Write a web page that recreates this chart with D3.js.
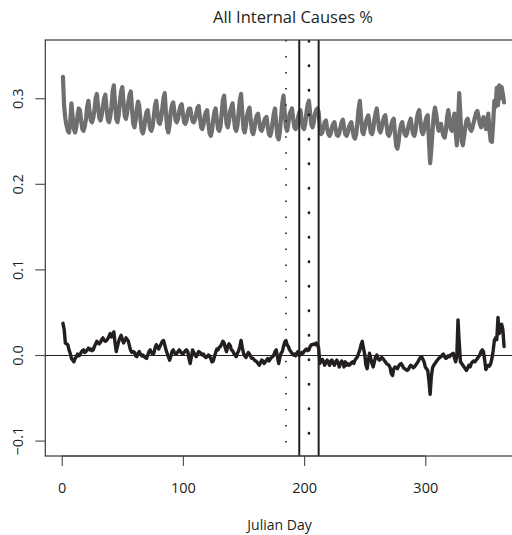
<!DOCTYPE html>
<html>
<head>
<meta charset="utf-8">
<script src="https://cdn.jsdelivr.net/npm/d3@7"></script>
<style>
  html, body { margin: 0; padding: 0; background: #fff; }
  svg { display: block; }
  text { font-family: "Open Sans", "Noto Sans", sans-serif; fill: #231f20; }
</style>
</head>
<body>
<svg id="chart" width="512" height="535"></svg>
<script>
// Daily share of deaths from all internal causes (grey) and its deviation series (black)
const title = "All Internal Causes %";
const xLabel = "Julian Day";
const xTicks = [0, 100, 200, 300];
const xTickLabels = ["0", "100", "200", "300"];
const yTicks = [-0.1, 0.0, 0.1, 0.2, 0.3];
const yTickLabels = ["\u22120.1", "0.0", "0.1", "0.2", "0.3"];

// Reference lines (Julian day)
const solidDays = [196, 212];
const dotDaysSmall = [185];
const dotDaysLarge = [204];

// Share of all deaths, days 1..365 (one row per week)
const shareAll = [
  0.325, 0.290, 0.276, 0.268, 0.262, 0.260, 0.272,
  0.294, 0.278, 0.264, 0.260, 0.266, 0.279, 0.288,
  0.286, 0.274, 0.264, 0.262, 0.267, 0.276, 0.290,
  0.297, 0.284, 0.274, 0.272, 0.277, 0.286, 0.300,
  0.305, 0.290, 0.277, 0.274, 0.280, 0.291, 0.300,
  0.304, 0.288, 0.275, 0.272, 0.278, 0.290, 0.308,
  0.315, 0.294, 0.276, 0.272, 0.280, 0.296, 0.308,
  0.313, 0.295, 0.279, 0.276, 0.283, 0.296, 0.304,
  0.308, 0.287, 0.270, 0.266, 0.274, 0.288, 0.296,
  0.291, 0.275, 0.262, 0.259, 0.265, 0.277, 0.284,
  0.286, 0.274, 0.264, 0.262, 0.267, 0.279, 0.292,
  0.297, 0.284, 0.272, 0.270, 0.276, 0.288, 0.300,
  0.306, 0.283, 0.265, 0.260, 0.269, 0.285, 0.292,
  0.295, 0.284, 0.274, 0.272, 0.276, 0.285, 0.291,
  0.293, 0.282, 0.272, 0.270, 0.274, 0.283, 0.288,
  0.288, 0.280, 0.273, 0.272, 0.275, 0.282, 0.289,
  0.291, 0.278, 0.266, 0.264, 0.269, 0.279, 0.284,
  0.286, 0.271, 0.259, 0.256, 0.262, 0.275, 0.284,
  0.288, 0.275, 0.264, 0.262, 0.267, 0.283, 0.298,
  0.303, 0.285, 0.270, 0.266, 0.273, 0.285, 0.290,
  0.294, 0.278, 0.265, 0.262, 0.268, 0.284, 0.298,
  0.305, 0.283, 0.264, 0.260, 0.268, 0.280, 0.286,
  0.289, 0.274, 0.261, 0.258, 0.264, 0.275, 0.280,
  0.282, 0.272, 0.264, 0.262, 0.266, 0.273, 0.277,
  0.278, 0.267, 0.258, 0.256, 0.261, 0.272, 0.282,
  0.288, 0.270, 0.255, 0.252, 0.260, 0.278, 0.294,
  0.303, 0.283, 0.266, 0.262, 0.270, 0.281, 0.285,
  0.288, 0.276, 0.266, 0.264, 0.268, 0.278, 0.283,
  0.286, 0.275, 0.266, 0.264, 0.270, 0.284, 0.293,
  0.297, 0.282, 0.269, 0.266, 0.272, 0.282, 0.286,
  0.288, 0.284, 0.266, 0.258, 0.260, 0.266, 0.272,
  0.274, 0.265, 0.258, 0.256, 0.259, 0.266, 0.270,
  0.272, 0.264, 0.257, 0.256, 0.259, 0.266, 0.272,
  0.275, 0.266, 0.258, 0.256, 0.259, 0.266, 0.270,
  0.272, 0.263, 0.255, 0.253, 0.258, 0.272, 0.288,
  0.297, 0.278, 0.261, 0.258, 0.264, 0.272, 0.277,
  0.280, 0.270, 0.260, 0.258, 0.263, 0.275, 0.283,
  0.288, 0.275, 0.263, 0.260, 0.265, 0.273, 0.278,
  0.280, 0.269, 0.258, 0.256, 0.260, 0.269, 0.274,
  0.276, 0.259, 0.244, 0.241, 0.249, 0.262, 0.269,
  0.272, 0.264, 0.258, 0.256, 0.259, 0.267, 0.272,
  0.276, 0.266, 0.258, 0.256, 0.262, 0.276, 0.283,
  0.286, 0.273, 0.261, 0.258, 0.263, 0.272, 0.278,
  0.280, 0.250, 0.224, 0.240, 0.262, 0.280, 0.289,
  0.282, 0.270, 0.262, 0.266, 0.270, 0.262, 0.256,
  0.254, 0.262, 0.278, 0.286, 0.276, 0.264, 0.262,
  0.270, 0.282, 0.262, 0.245, 0.270, 0.306, 0.280,
  0.250, 0.245, 0.255, 0.266, 0.274, 0.276, 0.270,
  0.264, 0.262, 0.266, 0.272, 0.278, 0.283, 0.285,
  0.278, 0.270, 0.266, 0.272, 0.278, 0.274, 0.264,
  0.272, 0.282, 0.262, 0.250, 0.249, 0.270, 0.297,
  0.290, 0.312, 0.292, 0.315, 0.300, 0.313, 0.305,
  0.295
];

// Deviation from expected share, days 1..365 (ten per row)
const deviation = [
  0.037, 0.030, 0.014, 0.013, 0.012, 0.006, 0.002, -0.004, -0.006, -0.008,
  -0.004, -0.002, 0.001, -0.001, 0.000, 0.003, 0.005, 0.006, 0.003, 0.004,
  0.006, 0.008, 0.006, 0.007, 0.005, 0.006, 0.010, 0.013, 0.016, 0.014,
  0.013, 0.015, 0.018, 0.020, 0.017, 0.016, 0.017, 0.019, 0.022, 0.025,
  0.021, 0.023, 0.027, 0.014, 0.004, 0.010, 0.016, 0.020, 0.023, 0.018,
  0.014, 0.017, 0.020, 0.018, 0.016, 0.010, 0.005, 0.003, 0.004, 0.003,
  -0.001, -0.002, 0.002, 0.004, 0.001, -0.001, 0.000, -0.002, -0.003, -0.004,
  0.000, 0.004, 0.006, 0.003, 0.001, 0.002, 0.008, 0.012, 0.010, 0.007,
  0.010, 0.013, 0.016, 0.017, 0.012, 0.006, 0.002, -0.002, -0.006, -0.002,
  0.004, 0.006, 0.003, 0.001, 0.002, 0.004, 0.006, 0.004, 0.002, 0.001,
  0.003, 0.005, 0.006, 0.004, -0.004, -0.010, -0.002, 0.006, 0.003, 0.000,
  -0.002, 0.001, 0.004, 0.003, 0.002, 0.000, 0.001, -0.002, -0.003, -0.002,
  0.000, -0.001, -0.004, -0.008, -0.007, -0.002, 0.003, 0.007, 0.006, 0.009,
  0.010, 0.013, 0.016, 0.014, 0.008, 0.004, 0.010, 0.013, 0.011, 0.006,
  0.005, 0.002, 0.000, -0.002, 0.002, 0.005, 0.010, 0.017, 0.009, 0.002,
  -0.001, -0.003, 0.000, 0.003, 0.001, -0.002, -0.004, -0.004, -0.006, -0.007,
  -0.008, -0.010, -0.012, -0.009, -0.006, -0.007, -0.010, -0.008, -0.006, -0.004,
  -0.007, -0.005, -0.003, -0.002, 0.000, 0.004, 0.006, -0.002, -0.010, -0.003,
  0.002, 0.004, 0.010, 0.015, 0.017, 0.012, 0.010, 0.006, 0.004, 0.002,
  0.000, 0.001, -0.001, 0.002, 0.004, -0.001, 0.001, 0.003, 0.002, 0.004,
  0.006, 0.007, 0.005, 0.006, 0.010, 0.012, 0.012, 0.013, 0.012, 0.014,
  0.012, 0.008, -0.010, -0.006, -0.005, -0.008, -0.012, -0.008, -0.006, -0.009,
  -0.012, -0.007, -0.006, -0.010, -0.012, -0.008, -0.006, -0.009, -0.014, -0.010,
  -0.007, -0.009, -0.014, -0.008, -0.012, -0.010, -0.012, -0.011, -0.009, -0.008,
  -0.010, -0.006, -0.004, -0.002, 0.002, 0.006, 0.012, 0.016, 0.008, 0.001,
  -0.012, -0.016, -0.006, 0.002, -0.004, -0.010, -0.014, -0.008, -0.002, 0.000,
  -0.004, -0.006, -0.005, -0.003, -0.004, -0.006, -0.008, -0.010, -0.011, -0.012,
  -0.015, -0.022, -0.024, -0.016, -0.014, -0.015, -0.016, -0.013, -0.011, -0.010,
  -0.012, -0.015, -0.016, -0.017, -0.018, -0.017, -0.014, -0.012, -0.013, -0.015,
  -0.014, -0.012, -0.010, -0.008, -0.005, -0.003, -0.002, -0.005, -0.008, -0.014,
  -0.016, -0.018, -0.030, -0.046, -0.025, -0.015, -0.012, -0.010, -0.008, -0.006,
  -0.004, -0.003, -0.002, 0.000, 0.001, -0.002, -0.004, -0.003, -0.001, -0.002,
  0.000, 0.001, 0.002, -0.003, -0.008, -0.002, 0.041, 0.015, -0.008, -0.010,
  -0.012, -0.014, -0.016, -0.018, -0.015, -0.012, -0.014, -0.010, -0.008, -0.007,
  -0.008, -0.006, -0.004, -0.002, 0.000, 0.004, 0.006, 0.004, -0.006, -0.017,
  -0.014, -0.012, -0.013, -0.010, -0.004, 0.005, 0.017, 0.020, 0.018, 0.044,
  0.025, 0.028, 0.036, 0.030, 0.010
];

const svg = d3.select("#chart");
const W = 512, H = 535;
svg.append("rect").attr("width", W).attr("height", H).attr("fill", "#fff");

// Plot region; axis limits padded by 4% like base R graphics
const plot = { left: 45.3, right: 521.7, top: 40, bottom: 456 };
const nDays = shareAll.length;
const xPad = 0.04 * (nDays - 1);
const x = d3.scaleLinear()
  .domain([1 - xPad, nDays + xPad])
  .range([plot.left, plot.right]);
const yLim = [-0.1, 0.35];
const yPad = 0.04 * (yLim[1] - yLim[0]);
const y = d3.scaleLinear()
  .domain([yLim[0] - yPad, yLim[1] + yPad])
  .range([plot.bottom, plot.top]);

const ink = "#231f20";

// Series
const line = d3.line()
  .x((d, i) => x(i + 1))
  .y(d => y(d))
  .curve(d3.curveLinear);

svg.append("path")
  .datum(shareAll)
  .attr("d", line)
  .attr("fill", "none")
  .attr("stroke", "#6f6f71")
  .attr("stroke-width", 4.2)
  .attr("stroke-linejoin", "round")
  .attr("stroke-linecap", "round");

svg.append("path")
  .datum(deviation)
  .attr("d", line)
  .attr("fill", "none")
  .attr("stroke", ink)
  .attr("stroke-width", 3.4)
  .attr("stroke-linejoin", "round")
  .attr("stroke-linecap", "round");

// Zero line, snapped to the pixel grid
const y0 = Math.round(y(0)) + 0.5;
svg.append("line")
  .attr("x1", plot.left).attr("x2", plot.right)
  .attr("y1", y0).attr("y2", y0)
  .attr("stroke", ink).attr("stroke-width", 1);

// Vertical reference lines
svg.selectAll("line.solid").data(solidDays).join("line")
  .attr("class", "solid")
  .attr("x1", d => x(d)).attr("x2", d => x(d))
  .attr("y1", plot.top).attr("y2", plot.bottom)
  .attr("stroke", ink).attr("stroke-width", 2);

svg.selectAll("line.dotS").data(dotDaysSmall).join("line")
  .attr("class", "dotS")
  .attr("x1", d => x(d)).attr("x2", d => x(d))
  .attr("y1", plot.top).attr("y2", plot.bottom)
  .attr("stroke", ink).attr("stroke-width", 1.6)
  .attr("stroke-dasharray", "1.5 14.54");

svg.selectAll("line.dotL").data(dotDaysLarge).join("line")
  .attr("class", "dotL")
  .attr("x1", d => x(d)).attr("x2", d => x(d))
  .attr("y1", plot.top + 1).attr("y2", plot.bottom)
  .attr("stroke", ink).attr("stroke-width", 2.6)
  .attr("stroke-linecap", "round")
  .attr("stroke-dasharray", "0.4 24.1");

// Box
svg.append("rect")
  .attr("x", plot.left).attr("y", plot.top)
  .attr("width", plot.right - plot.left).attr("height", plot.bottom - plot.top)
  .attr("fill", "none").attr("stroke", "#3a3a3a").attr("stroke-width", 1.2);

// X axis
const xAxis = svg.append("g")
  .attr("transform", `translate(0,${plot.bottom})`)
  .call(d3.axisBottom(x).tickValues(xTicks).tickSize(10)
    .tickFormat((d, i) => xTickLabels[i]));
xAxis.select(".domain").remove();
xAxis.selectAll(".tick line").attr("stroke", "#555").attr("stroke-width", 1.2);
xAxis.selectAll(".tick text")
  .attr("y", 37).attr("dy", 0)
  .style("font-size", "14.5px").attr("fill", ink);
xAxis.append("line")
  .attr("x1", x(xTicks[0])).attr("x2", x(xTicks[xTicks.length - 1]))
  .attr("stroke", "#3a3a3a").attr("stroke-width", 1.2);

// Y axis
const yAxis = svg.append("g")
  .attr("transform", `translate(${plot.left},0)`)
  .call(d3.axisLeft(y).tickValues(yTicks).tickSize(10)
    .tickFormat((d, i) => yTickLabels[i]));
yAxis.select(".domain").remove();
yAxis.selectAll(".tick line").attr("stroke", "#555").attr("stroke-width", 1.2);
yAxis.selectAll(".tick text")
  .attr("x", null).attr("dy", 0)
  .attr("transform", "translate(-22,0) rotate(-90)")
  .attr("text-anchor", "middle")
  .style("font-size", "14.5px").attr("fill", ink);

// Title and axis label
svg.append("text")
  .attr("x", 293).attr("y", 23)
  .attr("text-anchor", "middle")
  .style("font-size", "16.5px")
  .text(title);

svg.append("text")
  .attr("x", 279.5).attr("y", 530)
  .attr("text-anchor", "middle")
  .style("font-size", "14px")
  .text(xLabel);
</script>
</body>
</html>
